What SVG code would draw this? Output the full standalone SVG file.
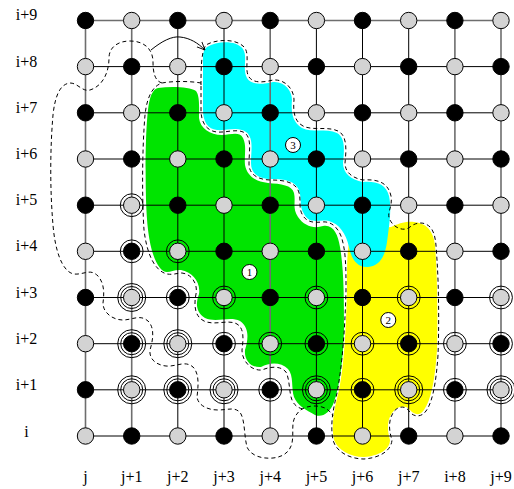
<svg xmlns="http://www.w3.org/2000/svg" xmlns:xlink="http://www.w3.org/1999/xlink" width="514" height="489" viewBox="0 0 514 489">
<style>
.lab{font-family:"Liberation Serif","Times New Roman",serif;font-size:16px;fill:#000;text-anchor:middle}
.num{font-family:"Liberation Serif","Times New Roman",serif;font-size:11px;fill:#000;text-anchor:middle}
.gl{stroke:#000;stroke-width:1;fill:none}
.gg{stroke:#6e6e6e;stroke-width:1.6;fill:none}
.b{fill:#000;stroke:#000;stroke-width:1}
.g{fill:#d3d3d3;stroke:#000;stroke-width:1}
.ring{fill:none;stroke:#000;stroke-width:1}
.dash{fill:none;stroke:#000;stroke-width:1;stroke-dasharray:4 3}
</style>
<defs>
<circle id="B" r="8.2" class="b"/>
<circle id="G" r="8.2" class="g"/>
<circle id="D" r="11.4" class="ring"/>
<g id="T"><circle r="11" class="ring"/><circle r="14" class="ring"/></g>
<marker id="arr" viewBox="0 0 10 10" refX="9" refY="5" markerWidth="9" markerHeight="9" orient="auto" markerUnits="userSpaceOnUse"><path d="M0,1 L9,5 L0,9" fill="none" stroke="#000" stroke-width="1"/></marker>
</defs>
<rect width="514" height="489" fill="#fff"/>
<g id="regions">
<path id="yellow" fill="#ffff00" d="M 350,240 C 360,232 378,228 391,227 C 398,224 405,221 414,222 C 426,223 433,230 435,245 C 437,270 438,310 437,350 C 435,380 431,400 424,410 C 420,416 414,415 410,410 C 405,404 397,406 392,413 C 387,420 387,430 390,440 C 390,450 378,456 364,457 C 350,457 338,450 334,440 C 331,425 334,410 339,390 C 344,365 346,330 347,290 C 347,265 347,248 350,240 Z"/>
<path id="green" fill="#00e400" d="M 158,88 C 172,86 190,87 196,91 C 200,96 199,108 199,118 C 200,128 210,135 222,135 C 231,135 239,131 243,138 C 247,146 244,156 245,165 C 247,176 256,182 268,183 C 281,184 292,185 294,193 C 296,202 292,208 298,217 C 304,226 314,229 323,226 C 333,224 338,234 340,247 C 344,270 344,300 344,330 C 343,360 340,385 334,402 C 330,413 322,418 315,415 C 306,410 297,405 294,397 C 291,388 294,376 288,369 C 281,362 270,362 261,367 C 251,368 244,360 245,350 C 248,340 250,328 240,321 C 230,316 216,323 205,318 C 195,312 196,302 199,294 C 201,282 192,272 181,270 C 172,269 166,276 160,268 C 150,255 147,230 146,200 C 145,160 146,120 149,103 C 151,93 154,89 158,88 Z"/>
<path id="cyan" fill="#00ffff" d="M 207,47 C 217,41 236,40 243,49 C 248,57 242,69 247,78 C 252,86 264,84 273,82 C 284,81 292,90 292,100 C 291,111 292,122 302,128 C 312,133 326,128 337,133 C 346,138 344,152 343,163 C 343,173 351,180 363,182 C 376,181 386,184 389,196 C 392,210 389,226 387,242 C 385,256 380,266 368,267 C 357,268 351,258 349,247 C 346,233 339,224 329,221 C 319,219 310,225 304,214 C 299,206 302,199 299,190 C 295,181 285,179 272,179 C 259,179 251,174 251,163 C 251,150 254,138 246,132 C 238,126 226,131 217,130 C 208,129 203,122 203,110 C 203,95 203,80 203,62 C 203,54 203,50 207,47 Z"/>
</g>
<g id="grid">
<path class="gg" d="M85.5,20.5H501"/>
<path class="gl" d="M85.5,66.6H501M85.5,112.8H501M85.5,159H501M85.5,205.2H501M85.5,251.3H501M85.5,297.5H501M85.5,343.7H501M85.5,389.8H501M85.5,436H501"/>
<path class="gg" d="M85.5,20.5V436M131.7,20.5V436M270.2,20.5V436M454.9,20.5V436M501,20.5V436"/>
<path class="gl" d="M177.8,20.5V436M224,20.5V436M316.4,20.5V436M362.5,20.5V436M408.7,20.5V436"/>
</g>
<g id="connectors">
<path class="dash" d="M 201,85 C 201,70 201,52 206,45 C 216,39 237,38 245,48 C 250,57 244,69 249,77 C 254,84 265,82 273,80 C 285,79 294,89 294,100 C 293,111 294,121 303,126 C 313,131 327,126 338,131 C 348,136 346,152 345,163 C 345,172 352,178 363,180 C 377,179 388,182 391,196 C 393,207 386,213 390,220 C 394,228 404,232 410,227 C 416,222 425,221 431,228 C 436,235 436,245 437,260 C 439,290 439,330 438,355 C 436,385 432,403 426,411 C 421,418 413,417 409,411 C 405,405 397,406 393,413 C 388,421 389,431 392,440 C 391,452 378,458 364,459 C 350,459 336,452 333,440 C 330,425 333,410 337,393 C 342,367 345,330 346,290 C 346,268 346,250 341,236 C 337,226 330,221 322,222 C 313,223 306,222 302,214 C 298,206 302,199 298,190 C 294,182 284,180 271,180 C 259,180 249,175 249,164 C 249,151 252,139 245,133 C 237,128 226,133 217,132 C 207,131 201,123 201,110 Z"/>
<path class="dash" d="M 201,83 C 190,81 172,81 162,83 C 153,86 147,96 145,115 C 142,150 142,200 144,230 C 147,255 155,271 167,274 C 174,275 177,273 182,273 C 191,274 198,283 196,294 C 194,304 194,316 204,321 C 215,326 228,319 237,324 C 245,329 243,341 242,350 C 242,362 252,371 262,370 C 271,366 281,366 286,372 C 290,380 289,393 292,400 C 294,405 298,408 303,409"/>
<path class="dash" d="M 162,83 C 155,81 153,73 153,62 C 153,48 143,41 130,41 C 117,41 109,48 109,58 C 109,72 103,86 90,90 C 82,92 78,83 70,83 C 60,84 55,96 53,115 C 50,150 50,190 53,225 C 55,250 62,272 74,274 C 84,275 90,268 98,276 C 105,284 104,295 103,303 C 103,313 113,320 123,320 C 132,320 140,314 148,321 C 155,328 153,340 150,350 C 149,359 156,365 166,366 C 176,367 185,360 193,367 C 200,374 198,388 197,397 C 198,405 207,410 218,410 C 228,410 236,406 241,414 C 245,422 244,435 247,447 C 251,456 262,459 273,458 C 283,457 290,452 292,443 C 294,433 291,425 295,417 C 299,409 306,406 315,406 C 324,406 330,410 333,416"/>
<path d="M 151,50 C 162,41 172,36 180,37 C 190,38 198,43 205,50" fill="none" stroke="#000" stroke-width="1" marker-end="url(#arr)"/>
</g>
<g id="nodes">
<g id="n9_0"><use xlink:href="#B" x="85.5" y="20.5"/></g><g id="n9_1"><use xlink:href="#G" x="131.7" y="20.5"/></g><g id="n9_2"><use xlink:href="#B" x="177.8" y="20.5"/></g><g id="n9_3"><use xlink:href="#G" x="224" y="20.5"/></g><g id="n9_4"><use xlink:href="#B" x="270.2" y="20.5"/></g><g id="n9_5"><use xlink:href="#G" x="316.4" y="20.5"/></g><g id="n9_6"><use xlink:href="#B" x="362.5" y="20.5"/></g><g id="n9_7"><use xlink:href="#G" x="408.7" y="20.5"/></g><g id="n9_8"><use xlink:href="#B" x="454.9" y="20.5"/></g><g id="n9_9"><use xlink:href="#G" x="501" y="20.5"/></g>
<g id="n8_0"><use xlink:href="#G" x="85.5" y="66.6"/></g><g id="n8_1"><use xlink:href="#B" x="131.7" y="66.6"/></g><g id="n8_2"><use xlink:href="#G" x="177.8" y="66.6"/></g><g id="n8_3"><use xlink:href="#B" x="224" y="66.6"/></g><g id="n8_4"><use xlink:href="#G" x="270.2" y="66.6"/></g><g id="n8_5"><use xlink:href="#B" x="316.4" y="66.6"/></g><g id="n8_6"><use xlink:href="#G" x="362.5" y="66.6"/></g><g id="n8_7"><use xlink:href="#B" x="408.7" y="66.6"/></g><g id="n8_8"><use xlink:href="#G" x="454.9" y="66.6"/></g><g id="n8_9"><use xlink:href="#B" x="501" y="66.6"/></g>
<g id="n7_0"><use xlink:href="#B" x="85.5" y="112.8"/></g><g id="n7_1"><use xlink:href="#G" x="131.7" y="112.8"/></g><g id="n7_2"><use xlink:href="#B" x="177.8" y="112.8"/></g><g id="n7_3"><use xlink:href="#G" x="224" y="112.8"/></g><g id="n7_4"><use xlink:href="#B" x="270.2" y="112.8"/></g><g id="n7_5"><use xlink:href="#G" x="316.4" y="112.8"/></g><g id="n7_6"><use xlink:href="#B" x="362.5" y="112.8"/></g><g id="n7_7"><use xlink:href="#G" x="408.7" y="112.8"/></g><g id="n7_8"><use xlink:href="#B" x="454.9" y="112.8"/></g><g id="n7_9"><use xlink:href="#G" x="501" y="112.8"/></g>
<g id="n6_0"><use xlink:href="#G" x="85.5" y="159"/></g><g id="n6_1"><use xlink:href="#B" x="131.7" y="159"/></g><g id="n6_2"><use xlink:href="#G" x="177.8" y="159"/></g><g id="n6_3"><use xlink:href="#B" x="224" y="159"/></g><g id="n6_4"><use xlink:href="#G" x="270.2" y="159"/></g><g id="n6_5"><use xlink:href="#B" x="316.4" y="159"/></g><g id="n6_6"><use xlink:href="#G" x="362.5" y="159"/></g><g id="n6_7"><use xlink:href="#B" x="408.7" y="159"/></g><g id="n6_8"><use xlink:href="#G" x="454.9" y="159"/></g><g id="n6_9"><use xlink:href="#B" x="501" y="159"/></g>
<g id="n5_0"><use xlink:href="#B" x="85.5" y="205.2"/></g><g id="n5_1"><use xlink:href="#G" x="131.7" y="205.2"/><use xlink:href="#D" x="131.7" y="205.2"/></g><g id="n5_2"><use xlink:href="#B" x="177.8" y="205.2"/></g><g id="n5_3"><use xlink:href="#G" x="224" y="205.2"/></g><g id="n5_4"><use xlink:href="#B" x="270.2" y="205.2"/></g><g id="n5_5"><use xlink:href="#G" x="316.4" y="205.2"/></g><g id="n5_6"><use xlink:href="#B" x="362.5" y="205.2"/></g><g id="n5_7"><use xlink:href="#G" x="408.7" y="205.2"/></g><g id="n5_8"><use xlink:href="#B" x="454.9" y="205.2"/></g><g id="n5_9"><use xlink:href="#G" x="501" y="205.2"/></g>
<g id="n4_0"><use xlink:href="#G" x="85.5" y="251.3"/></g><g id="n4_1"><use xlink:href="#B" x="131.7" y="251.3"/><use xlink:href="#D" x="131.7" y="251.3"/></g><g id="n4_2"><use xlink:href="#G" x="177.8" y="251.3"/><use xlink:href="#D" x="177.8" y="251.3"/></g><g id="n4_3"><use xlink:href="#B" x="224" y="251.3"/></g><g id="n4_4"><use xlink:href="#G" x="270.2" y="251.3"/></g><g id="n4_5"><use xlink:href="#B" x="316.4" y="251.3"/></g><g id="n4_6"><use xlink:href="#G" x="362.5" y="251.3"/></g><g id="n4_7"><use xlink:href="#B" x="408.7" y="251.3"/></g><g id="n4_8"><use xlink:href="#G" x="454.9" y="251.3"/></g><g id="n4_9"><use xlink:href="#B" x="501" y="251.3"/></g>
<g id="n3_0"><use xlink:href="#B" x="85.5" y="297.5"/></g><g id="n3_1"><use xlink:href="#G" x="131.7" y="297.5"/><use xlink:href="#T" x="131.7" y="297.5"/></g><g id="n3_2"><use xlink:href="#B" x="177.8" y="297.5"/><use xlink:href="#D" x="177.8" y="297.5"/></g><g id="n3_3"><use xlink:href="#G" x="224" y="297.5"/><use xlink:href="#D" x="224" y="297.5"/></g><g id="n3_4"><use xlink:href="#B" x="270.2" y="297.5"/></g><g id="n3_5"><use xlink:href="#G" x="316.4" y="297.5"/><use xlink:href="#D" x="316.4" y="297.5"/></g><g id="n3_6"><use xlink:href="#B" x="362.5" y="297.5"/></g><g id="n3_7"><use xlink:href="#G" x="408.7" y="297.5"/><use xlink:href="#D" x="408.7" y="297.5"/></g><g id="n3_8"><use xlink:href="#B" x="454.9" y="297.5"/></g><g id="n3_9"><use xlink:href="#G" x="501" y="297.5"/><use xlink:href="#D" x="501" y="297.5"/></g>
<g id="n2_0"><use xlink:href="#G" x="85.5" y="343.7"/></g><g id="n2_1"><use xlink:href="#B" x="131.7" y="343.7"/><use xlink:href="#T" x="131.7" y="343.7"/></g><g id="n2_2"><use xlink:href="#G" x="177.8" y="343.7"/><use xlink:href="#T" x="177.8" y="343.7"/></g><g id="n2_3"><use xlink:href="#B" x="224" y="343.7"/><use xlink:href="#D" x="224" y="343.7"/></g><g id="n2_4"><use xlink:href="#G" x="270.2" y="343.7"/><use xlink:href="#D" x="270.2" y="343.7"/></g><g id="n2_5"><use xlink:href="#B" x="316.4" y="343.7"/><use xlink:href="#D" x="316.4" y="343.7"/></g><g id="n2_6"><use xlink:href="#G" x="362.5" y="343.7"/><use xlink:href="#D" x="362.5" y="343.7"/></g><g id="n2_7"><use xlink:href="#B" x="408.7" y="343.7"/><use xlink:href="#D" x="408.7" y="343.7"/></g><g id="n2_8"><use xlink:href="#G" x="454.9" y="343.7"/><use xlink:href="#D" x="454.9" y="343.7"/></g><g id="n2_9"><use xlink:href="#B" x="501" y="343.7"/><use xlink:href="#D" x="501" y="343.7"/></g>
<g id="n1_0"><use xlink:href="#B" x="85.5" y="389.8"/></g><g id="n1_1"><use xlink:href="#G" x="131.7" y="389.8"/><use xlink:href="#T" x="131.7" y="389.8"/></g><g id="n1_2"><use xlink:href="#B" x="177.8" y="389.8"/><use xlink:href="#T" x="177.8" y="389.8"/></g><g id="n1_3"><use xlink:href="#G" x="224" y="389.8"/><use xlink:href="#T" x="224" y="389.8"/></g><g id="n1_4"><use xlink:href="#B" x="270.2" y="389.8"/><use xlink:href="#D" x="270.2" y="389.8"/></g><g id="n1_5"><use xlink:href="#G" x="316.4" y="389.8"/><use xlink:href="#T" x="316.4" y="389.8"/></g><g id="n1_6"><use xlink:href="#B" x="362.5" y="389.8"/><use xlink:href="#D" x="362.5" y="389.8"/></g><g id="n1_7"><use xlink:href="#G" x="408.7" y="389.8"/><use xlink:href="#T" x="408.7" y="389.8"/></g><g id="n1_8"><use xlink:href="#B" x="454.9" y="389.8"/><use xlink:href="#D" x="454.9" y="389.8"/></g><g id="n1_9"><use xlink:href="#G" x="501" y="389.8"/><use xlink:href="#T" x="501" y="389.8"/></g>
<g id="n0_0"><use xlink:href="#G" x="85.5" y="436"/></g><g id="n0_1"><use xlink:href="#B" x="131.7" y="436"/></g><g id="n0_2"><use xlink:href="#G" x="177.8" y="436"/></g><g id="n0_3"><use xlink:href="#B" x="224" y="436"/></g><g id="n0_4"><use xlink:href="#G" x="270.2" y="436"/></g><g id="n0_5"><use xlink:href="#B" x="316.4" y="436"/></g><g id="n0_6"><use xlink:href="#G" x="362.5" y="436"/></g><g id="n0_7"><use xlink:href="#B" x="408.7" y="436"/></g><g id="n0_8"><use xlink:href="#G" x="454.9" y="436"/></g><g id="n0_9"><use xlink:href="#B" x="501" y="436"/></g>
</g>
<g id="region-labels">
<g id="lab1"><circle cx="249.5" cy="272" r="7.5" fill="#fff" stroke="#000" stroke-width="1"/><text class="num" x="249.5" y="276">1</text></g>
<g id="lab2"><circle cx="388.3" cy="320" r="7.5" fill="#fff" stroke="#000" stroke-width="1"/><text class="num" x="388.3" y="324">2</text></g>
<g id="lab3"><circle cx="293" cy="145" r="7.5" fill="#fff" stroke="#000" stroke-width="1"/><text class="num" x="293" y="149">3</text></g>
</g>
<g id="axis-labels">
<text class="lab" x="26.5" y="20">i+9</text>
<text class="lab" x="26.5" y="66.6">i+8</text>
<text class="lab" x="26.5" y="112.8">i+7</text>
<text class="lab" x="26.5" y="159">i+6</text>
<text class="lab" x="26.5" y="205.2">i+5</text>
<text class="lab" x="26.5" y="251.3">i+4</text>
<text class="lab" x="26.5" y="297.5">i+3</text>
<text class="lab" x="26.5" y="343.7">i+2</text>
<text class="lab" x="26.5" y="389.8">i+1</text>
<text class="lab" x="26.5" y="436.5">i</text>
<text class="lab" x="85.5" y="482">j</text>
<text class="lab" x="131.7" y="482">j+1</text>
<text class="lab" x="177.8" y="482">j+2</text>
<text class="lab" x="224" y="482">j+3</text>
<text class="lab" x="270.2" y="482">j+4</text>
<text class="lab" x="316.4" y="482">j+5</text>
<text class="lab" x="362.5" y="482">j+6</text>
<text class="lab" x="408.7" y="482">j+7</text>
<text class="lab" x="454.9" y="482">i+8</text>
<text class="lab" x="501" y="482">j+9</text>
</g>
</svg>
